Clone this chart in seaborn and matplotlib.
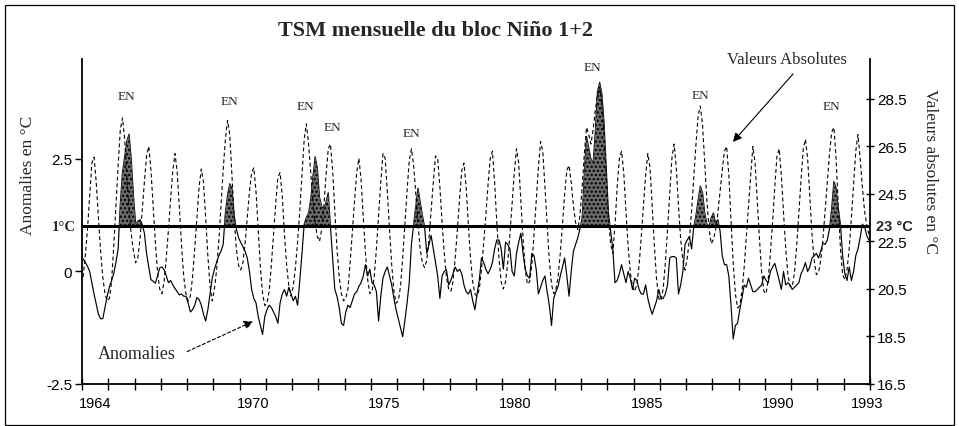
import numpy as np
import pandas as pd
import matplotlib
matplotlib.use("Agg")
import matplotlib.pyplot as plt
import seaborn as sns
from matplotlib.patches import Rectangle

# ---------------- data (monthly, Jan 1964 - Dec 1993) ----------------
years = list(range(1964, 1994))

anomalies = [
    0.28, 0.2, 0.12, 0.0, -0.25, -0.5, -0.72, -0.95, -1.05, -1.05, -0.8, -0.55,      # 1964
    -0.35, -0.2, -0.05, 0.2, 0.5, 1.5, 2.2, 2.55, 2.9, 3.05, 2.5, 1.7,               # 1965
    1.05, 1.12, 1.15, 1.05, 0.85, 0.4, 0.1, -0.18, -0.22, -0.26, -0.1, 0.08,         # 1966
    0.1, 0.04, -0.1, -0.25, -0.2, -0.3, -0.38, -0.45, -0.52, -0.5, -0.55, -0.55,     # 1967
    -0.7, -0.9, -0.85, -0.75, -0.58, -0.62, -0.75, -0.95, -1.1, -0.85, -0.5, -0.15,  # 1968
    0.05, 0.2, 0.35, 0.45, 0.6, 1.3, 1.7, 1.95, 1.85, 1.25, 0.95, 0.75,              # 1969
    0.65, 0.55, 0.45, 0.3, 0.0, -0.4, -0.6, -0.7, -1.0, -1.2, -1.4, -1.0,            # 1970
    -0.85, -0.75, -0.8, -0.9, -1.0, -1.15, -0.7, -0.5, -0.4, -0.55, -0.35, -0.5,     # 1971
    -0.65, -0.55, -0.75, -0.2, 0.4, 1.05, 1.2, 1.3, 1.6, 2.1, 2.55, 2.3,             # 1972
    1.65, 1.45, 1.35, 1.55, 1.75, 1.0, 0.3, -0.4, -0.55, -0.8, -1.15, -1.2,          # 1973
    -0.9, -0.75, -0.8, -0.65, -0.5, -0.45, -0.33, -0.25, -0.1, 0.15, -0.1, 0.05,     # 1974
    -0.25, -0.3, -0.45, -1.1, -0.55, -0.15, 0.0, 0.1, -0.1, -0.3, -0.6, -0.85,       # 1975
    -1.05, -1.25, -1.45, -1.1, -0.7, -0.25, 0.6, 1.05, 1.45, 1.85, 1.55, 1.25,       # 1976
    1.0, 0.4, 0.6, 0.8, 0.5, 0.2, -0.1, -0.6, -0.1, 0.0, 0.04, -0.3,                 # 1977
    -0.2, -0.05, 0.1, 0.0, 0.05, -0.05, -0.3, -0.45, -0.5, -0.4, -0.65, -0.85,       # 1978
    -0.5, -0.2, 0.3, 0.2, 0.05, -0.05, 0.05, 0.2, 0.5, 0.7, 0.7, 0.5,                # 1979
    0.05, 0.65, 0.6, 0.5, 0.0, -0.1, 0.4, 0.65, 0.85, 0.4, 0.05, -0.1,               # 1980
    -0.15, 0.4, 0.35, 0.05, -0.5, -0.35, -0.2, -0.1, -0.45, -0.75, -1.2, -0.6,       # 1981
    -0.45, -0.33, -0.1, 0.1, 0.3, -0.1, -0.55, 0.0, 0.45, 0.6, 0.75, 0.95,           # 1982
    1.2, 2.2, 3.0, 2.75, 2.5, 2.4, 3.1, 4.0, 4.2, 3.95, 3.3, 2.3,                    # 1983
    1.3, 0.9, 0.5, -0.25, -0.2, -0.05, 0.15, -0.05, -0.25, 0.0, -0.15, -0.4,         # 1984
    -0.15, -0.2, -0.4, -0.5, -0.5, -0.3, -0.6, -0.8, -0.95, -0.8, -0.65, -0.4,       # 1985
    -0.6, -0.6, -0.5, -0.3, 0.3, 0.33, 0.33, 0.3, -0.5, -0.3, 0.0, 0.6,              # 1986
    0.7, 0.78, 0.5, 1.0, 1.25, 1.6, 1.9, 1.75, 1.3, 1.05, 1.0, 1.2,                  # 1987
    1.3, 1.05, 1.15, 0.9, 0.35, 0.15, 0.15, -0.1, -0.75, -1.5, -1.2, -1.15,          # 1988
    -0.85, -0.6, -0.3, -0.35, -0.15, -0.3, -0.45, -0.45, -0.4, -0.35, -0.3, -0.1,    # 1989
    -0.2, -0.25, 0.0, 0.1, 0.18, 0.0, -0.2, -0.4, 0.0, -0.3, -0.25, -0.3,            # 1990
    -0.4, -0.35, -0.3, -0.25, -0.05, 0.05, 0.2, 0.0, 0.1, 0.3, 0.35, 0.4,            # 1991
    0.3, 0.45, 0.63, 0.6, 0.7, 0.95, 1.4, 2.0, 1.85, 1.4, 1.05, 0.35,                # 1992
    -0.05, -0.2, 0.1, -0.2, 0.0, 0.35, 0.5, 0.75, 1.05, 1.0, 0.8, 0.7,               # 1993
]

absolute = [
    21.0, 21.9, 23.0, 24.4, 25.8, 26.05, 25.0, 23.5, 22.1, 21.0, 20.3, 20.0,   # 1964
    20.1, 20.8, 22.3, 24.0, 25.7, 27.2, 27.7, 26.8, 25.2, 23.8, 22.8, 22.1,    # 1965
    21.6, 21.8, 22.6, 23.8, 25.0, 26.1, 26.5, 25.5, 24.0, 22.5, 21.2, 20.5,    # 1966
    20.3, 20.8, 21.8, 23.0, 24.3, 25.5, 26.2, 25.4, 23.9, 22.3, 21.0, 20.3,    # 1967
    20.0, 20.2, 21.0, 22.2, 23.5, 24.8, 25.55, 25.0, 23.5, 21.9, 20.6, 20.0,   # 1968
    20.5, 21.3, 22.5, 24.0, 25.5, 26.8, 27.6, 27.0, 25.3, 23.5, 22.2, 21.5,    # 1969
    21.3, 21.6, 22.4, 23.5, 24.6, 25.4, 25.6, 24.6, 23.0, 21.4, 20.3, 19.8,    # 1970
    19.9, 20.4, 21.5, 22.8, 24.1, 25.2, 25.4, 24.4, 22.8, 21.5, 20.6, 20.2,    # 1971
    20.6, 21.4, 22.5, 23.8, 25.3, 26.8, 27.45, 26.6, 25.4, 24.2, 23.3, 22.7,   # 1972
    22.5, 23.0, 24.0, 25.3, 26.4, 26.6, 25.5, 23.8, 22.2, 21.0, 20.3, 20.0,    # 1973
    20.1, 20.5, 21.6, 22.9, 24.2, 25.4, 26.0, 25.1, 23.5, 22.0, 20.9, 20.3,    # 1974
    20.4, 21.0, 22.2, 23.6, 25.0, 26.2, 26.0, 24.6, 23.0, 21.5, 20.4, 19.9,    # 1975
    20.0, 20.6, 21.8, 23.2, 24.6, 25.9, 26.4, 25.7, 24.5, 23.2, 22.2, 21.6,    # 1976
    21.4, 21.7, 22.6, 23.8, 25.0, 26.1, 26.0, 24.8, 23.3, 22.0, 21.0, 20.5,    # 1977
    20.4, 20.8, 21.8, 23.0, 24.3, 25.5, 25.8, 24.8, 23.2, 21.8, 20.8, 20.3,    # 1978
    20.2, 20.5, 21.3, 22.4, 23.6, 24.9, 26.0, 26.3, 25.0, 23.3, 21.8, 20.8,    # 1979
    20.5, 20.8, 21.6, 22.8, 24.1, 25.4, 26.4, 25.8, 24.2, 22.6, 21.3, 20.7,    # 1980
    20.8, 21.5, 22.8, 24.2, 25.6, 26.7, 26.3, 24.8, 23.2, 21.7, 20.7, 20.3,    # 1981
    20.5, 21.0, 22.0, 23.2, 24.5, 25.5, 25.7, 25.0, 24.0, 23.3, 23.0, 23.6,    # 1982
    24.8, 26.2, 27.3, 27.0, 26.6, 27.2, 28.0, 28.7, 29.0, 28.3, 27.0, 25.3,    # 1983
    23.5, 22.4, 22.0, 23.2, 24.8, 26.0, 26.3, 25.4, 23.8, 22.3, 21.2, 20.6,    # 1984
    20.4, 20.7, 21.5, 22.7, 24.0, 25.3, 26.2, 25.6, 24.0, 22.3, 20.9, 20.1,    # 1985
    20.0, 20.5, 21.6, 23.0, 24.5, 26.0, 26.6, 25.6, 24.0, 22.6, 21.7, 21.3,    # 1986
    21.8, 22.6, 23.8, 25.2, 26.6, 27.8, 28.2, 27.4, 25.8, 24.2, 23.0, 22.4,    # 1987
    22.6, 23.0, 23.7, 24.6, 25.5, 26.3, 26.5, 25.3, 23.4, 21.6, 20.3, 19.7,    # 1988
    19.8, 20.4, 21.4, 22.7, 24.0, 25.3, 26.5, 25.8, 24.2, 22.6, 21.2, 20.4,    # 1989
    20.3, 20.9, 22.0, 23.3, 24.8, 26.1, 26.4, 25.3, 23.7, 22.2, 21.1, 20.6,    # 1990
    20.6, 21.2, 22.3, 23.7, 25.1, 26.4, 26.8, 26.0, 24.4, 22.8, 21.7, 21.1,    # 1991
    21.2, 21.7, 22.6, 23.8, 25.0, 26.2, 27.1, 27.3, 26.0, 24.0, 22.2, 21.1,    # 1992
    20.9, 21.3, 22.2, 23.5, 24.9, 26.3, 27.0, 26.0, 24.8, 23.8, 23.2, 22.8,    # 1993
]

x_labels = ["1964", "1970", "1975", "1980", "1985", "1990", "1993"]
left_ticks = [-2.5, 0, 2.5]
left_labels = ["-2.5", "0", "2.5"]
right_ticks = [16.5, 18.5, 20.5, 22.5, 24.5, 26.5, 28.5]
right_labels = ["16.5", "18.5", "20.5", "22.5", "24.5", "26.5", "28.5"]
threshold = 1.0

# ---------------- build frame ----------------
time = [years[0] + (i + 0.5) / 12 for i in range(len(anomalies))]
df = pd.DataFrame({"time": time, "anomalie": anomalies, "absolue": absolute})

sns.set_theme(style="white")
plt.rcParams["font.family"] = ["Liberation Sans", "DejaVu Sans"]
plt.rcParams["hatch.linewidth"] = 1.2
SERIF = ["Liberation Serif", "DejaVu Serif"]

W, H = 959, 427
fig = plt.figure(figsize=(W / 100, H / 100), dpi=100)
L, R, T, B = 82, 870, 60, 385
ax1 = fig.add_axes([L / W, 1 - B / H, (R - L) / W, (B - T) / H])
ax2 = ax1.twinx()

# anomalies (solid)
sns.lineplot(data=df, x="time", y="anomalie", ax=ax1, color="black",
             linewidth=0.85, errorbar=None, legend=False)
# shading where anomaly above 1 degC
a = np.asarray(anomalies)
ax1.fill_between(df["time"], threshold, a, where=a > threshold, interpolate=True,
                 facecolor="#6e6e6e", edgecolor="#000000", hatch="....",
                 linewidth=0, zorder=2)
ax1.axhline(threshold, color="black", linewidth=2.2, zorder=4)

# absolute values (dashed)
sns.lineplot(data=df, x="time", y="absolue", ax=ax2, color="black",
             linewidth=0.8, errorbar=None, legend=False)
for ln in ax2.get_lines():
    ln.set_dashes((3.5, 2.5))

# ---------------- axes ----------------
ax1.set_xlim(1964, 1994)
ax1.set_ylim(-2.5, 4.72)
ax2.set_ylim(16.5, 30.18)

ax1.set_xlabel("")
ax1.set_ylabel("")
ax2.set_ylabel("")

ax1.set_xticks(np.arange(1964, 1995))
ax1.tick_params(axis="x", which="major", direction="inout", length=8, width=1,
                color="black", labelbottom=False, bottom=True)
label_pos = [int(s) + 0.5 for s in x_labels[:-1]] + [1993.9]
ax1.set_xticks(label_pos, minor=True)
ax1.set_xticklabels(x_labels, minor=True)
ax1.tick_params(axis="x", which="minor", length=0, pad=9, labelsize=10.5,
                labelcolor="black")

ax1.set_yticks(left_ticks)
ax1.set_yticklabels(left_labels)
ax1.tick_params(axis="y", direction="out", length=5, width=1, color="black",
                labelsize=11, pad=2, left=True, labelcolor="black")

ax2.set_yticks(right_ticks)
ax2.set_yticklabels(right_labels)
ax2.tick_params(axis="y", direction="inout", length=6, width=1, color="black",
                labelsize=11, pad=2, right=True, labelcolor="black")

for sp in ["top", "right"]:
    ax1.spines[sp].set_visible(False)
for sp in ["left", "bottom"]:
    ax1.spines[sp].set_color("black")
    ax1.spines[sp].set_linewidth(1.3)
for sp in ["top", "left", "bottom"]:
    ax2.spines[sp].set_visible(False)
ax2.spines["right"].set_color("black")
ax2.spines["right"].set_linewidth(1.3)
ax1.grid(False)
ax2.grid(False)

# special bold labels at the 1 degC / 23 degC line
ax1.text(-0.008, threshold, "1°C", transform=ax1.get_yaxis_transform(),
         ha="right", va="center", fontsize=10.5, fontweight="bold", family=SERIF)
ax2.text(1.007, 23.15, "23 °C", transform=ax2.get_yaxis_transform(),
         ha="left", va="center", fontsize=10.5, fontweight="bold")

# ---------------- annotations ----------------
en_marks = [(1965.71, 28.63), (1969.63, 28.42), (1972.49, 28.2), (1973.52, 27.32),
            (1976.56, 27.07), (1983.45, 29.85), (1987.53, 28.67), (1992.55, 28.2)]
for ex, ey in en_marks:
    ax2.text(ex, ey, "EN", ha="center", va="center", fontsize=9.5, family=SERIF)

ax2.text(1990.84, 30.2, "Valeurs Absolutes", ha="center", va="center",
         fontsize=12, family=SERIF)
ax2.annotate("", xy=(1988.78, 26.69), xytext=(1991.07, 29.55),
             arrowprops=dict(arrowstyle="-|>", color="black", lw=0.8,
                             mutation_scale=13, shrinkA=0, shrinkB=0),
             annotation_clip=False)

ax1.text(1966.09, -1.82, "Anomalies", ha="center", va="center",
         fontsize=13, family=SERIF)
ax1.annotate("", xy=(1970.51, -1.11), xytext=(1968.0, -1.78),
             arrowprops=dict(arrowstyle="-|>", color="black", lw=0.8,
                             linestyle=(0, (3, 2)), mutation_scale=13,
                             shrinkA=0, shrinkB=0))

# titles / axis labels
fig.text(436 / W, 1 - 31 / H, "TSM mensuelle du bloc Niño 1+2", ha="center",
         va="center", fontsize=16, fontweight="bold", family=SERIF)
fig.text(28 / W, 1 - 175 / H, "Anomalies en °C", rotation=90, ha="center",
         va="center", fontsize=12.5, family=SERIF)
fig.text(930 / W, 1 - 172 / H, "Valeurs absolutes en °C", rotation=-90,
         ha="center", va="center", fontsize=12.5, family=SERIF)

# outer frame
fig.add_artist(Rectangle((5 / W, 1 / H), 949 / W, 420 / H, transform=fig.transFigure,
                         fill=False, edgecolor="black", linewidth=0.9))

fig.savefig("out.png", dpi=100, facecolor="white")
